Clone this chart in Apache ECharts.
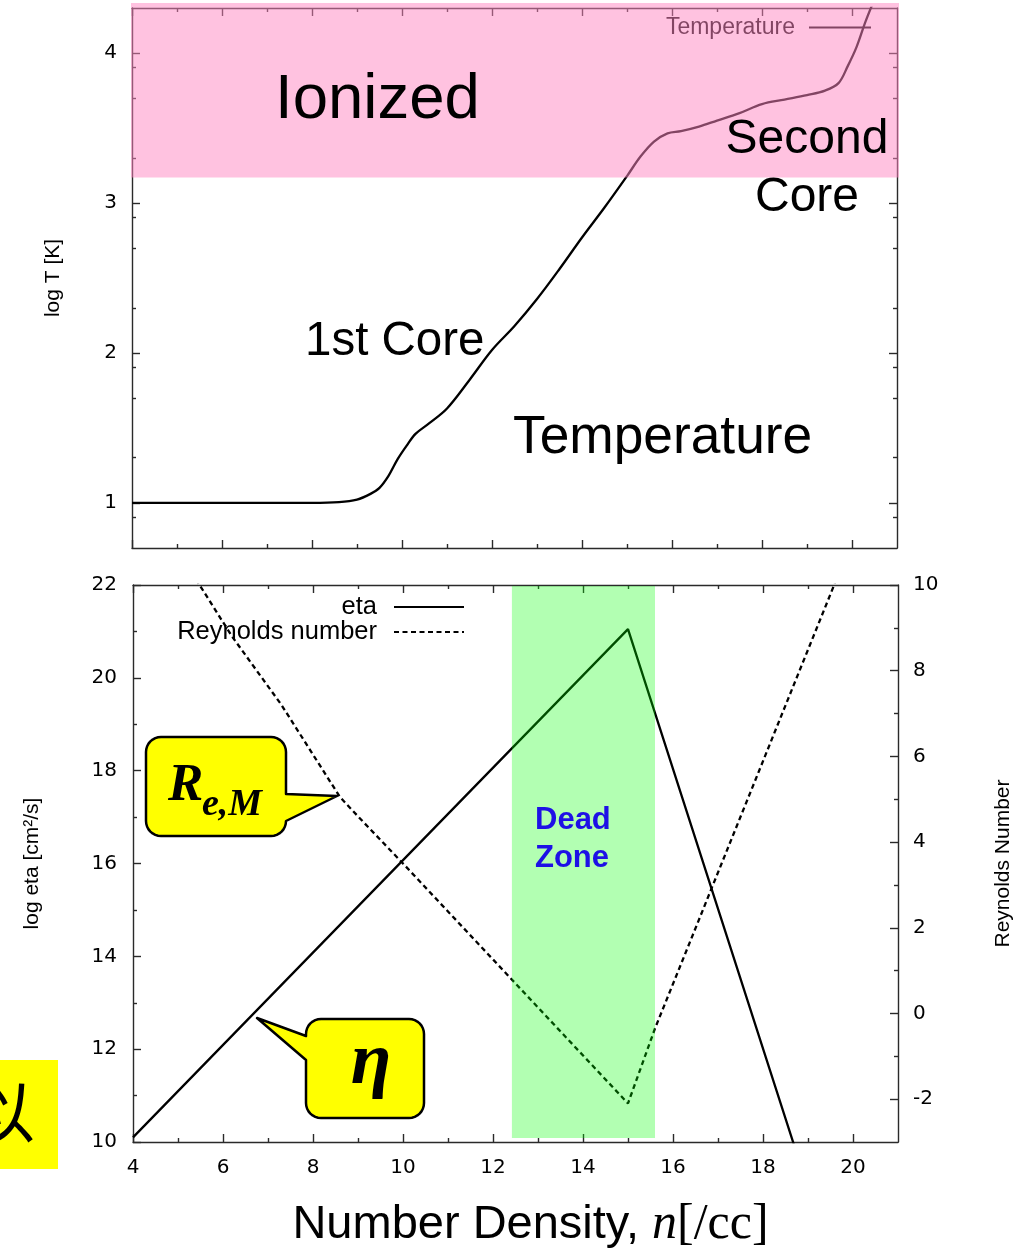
<!DOCTYPE html>
<html>
<head>
<meta charset="utf-8">
<script src="https://cdn.jsdelivr.net/npm/echarts@6/dist/echarts.min.js"></script>
<style>
  html, body { margin: 0; padding: 0; background: #ffffff; }
  #chart { width: 1017px; height: 1248px; }
</style>
</head>
<body>
<div id="chart"></div>
<script>
// ---- data: temperature vs number density (upper panel) ----
const densityT = [4, 6, 8, 8.6, 9.0, 9.3, 9.5, 9.7, 9.9, 10.1, 10.3, 10.6, 11.0, 11.5, 12.0, 12.5, 13.0, 13.5, 14.0, 14.5, 15.0, 15.3, 15.6, 15.9, 16.2, 16.6, 17.0, 17.5, 18.0, 18.5, 19.0, 19.4, 19.7, 19.9, 20.1, 20.3, 20.5];
const logT = [1.0, 1.0, 1.0, 1.005, 1.022, 1.06, 1.10, 1.18, 1.29, 1.38, 1.46, 1.53, 1.63, 1.82, 2.02, 2.18, 2.36, 2.56, 2.77, 2.97, 3.18, 3.31, 3.41, 3.465, 3.48, 3.51, 3.55, 3.60, 3.66, 3.69, 3.72, 3.75, 3.80, 3.91, 4.04, 4.21, 4.36];

// ---- data: resistivity and magnetic Reynolds number (lower panel) ----
const densityEta = [4, 15, 19];
const logEta = [10.1, 21.05, 9.0];
const densityRe = [5.3, 6.2, 7.3, 8.6, 9.0, 10.0, 15.0, 15.6, 19.6];
const reynolds = [10.3, 8.8, 7.2, 5.05, 4.6, 3.5, -2.1, -0.35, 10.05];

// ---- shaded regions ----
const ionizedFloorLogT = 3.17;       // lower edge of the ionized band
const deadZone = [12.42, 15.6];      // density range of the dead zone

// ---- axis ranges and ticks ----
const densityRange = [4, 21];
const logTRange = [Math.log10(5), Math.log10(20000)];
const etaRange = [10, 22];
const reRange = [-3, 10];
const densityTicks = [4, 6, 8, 10, 12, 14, 16, 18, 20];
const densityMinorTicks = [5, 7, 9, 11, 13, 15, 17, 19];
const logTTicks = [1, 2, 3, 4];
const logTMinorTicks = [8, 20, 50, 80, 200, 500, 800, 2000, 5000, 8000].map(v => Math.log10(v));
const etaTicks = [10, 12, 14, 16, 18, 20, 22];
const etaMinorTicks = [11, 13, 15, 17, 19, 21];
const reTicks = [-2, 0, 2, 4, 6, 8, 10];
const reMinorTicks = [-1, 1, 3, 5, 7, 9];

const FRAME = '#2a2a2a';
const TICK_FONT = { fontFamily: 'DejaVu Sans', fontSize: 20, color: '#000' };
const NAME_FONT = { fontFamily: 'Liberation Sans', fontSize: 21, color: '#000' };
const LINE_W = 2.3;

// one axis of the boxed frame; major axes draw the line, minor ones only short ticks
function frameAxis(opt) {
  const major = !opt.minor;
  const ax = {
    type: 'value',
    gridIndex: opt.grid,
    position: opt.position,
    min: opt.range[0],
    max: opt.range[1],
    splitLine: { show: false },
    axisLine: { show: major, onZero: false, lineStyle: { color: FRAME, width: 1.4 } },
    axisTick: {
      show: true, inside: true, length: major ? 8 : 4,
      customValues: opt.ticks,
      lineStyle: { color: FRAME, width: 1.4 }
    },
    axisLabel: { show: false },
    nameMoveOverlap: false
  };
  if (opt.labels) {
    ax.axisLabel = Object.assign({ show: true, customValues: opt.labels, margin: opt.margin || 15 }, TICK_FONT);
  }
  if (opt.name) {
    ax.name = opt.name;
    ax.nameLocation = 'middle';
    ax.nameGap = opt.nameGap;
    if (opt.nameRotate !== undefined) ax.nameRotate = opt.nameRotate;
    ax.nameTextStyle = opt.nameTextStyle || NAME_FONT;
  }
  return ax;
}

const xAxes = [
  // upper panel
  frameAxis({ grid: 0, position: 'bottom', range: densityRange, ticks: densityTicks }),
  frameAxis({ grid: 0, position: 'bottom', range: densityRange, ticks: densityMinorTicks, minor: true }),
  frameAxis({ grid: 0, position: 'top', range: densityRange, ticks: densityTicks }),
  frameAxis({ grid: 0, position: 'top', range: densityRange, ticks: densityMinorTicks, minor: true }),
  // lower panel
  frameAxis({
    grid: 1, position: 'bottom', range: densityRange, ticks: densityTicks, labels: densityTicks, margin: 16,
    name: '{a|Number Density, }{b|n}{c|[/cc]}', nameGap: 58,
    nameTextStyle: {
      padding: [0, 0, 0, 30],
      rich: {
        a: { fontFamily: 'Liberation Sans', fontSize: 47, color: '#000' },
        b: { fontFamily: 'Liberation Serif', fontStyle: 'italic', fontSize: 50, color: '#000' },
        c: { fontFamily: 'Liberation Serif', fontSize: 50, color: '#000' }
      }
    }
  }),
  frameAxis({ grid: 1, position: 'bottom', range: densityRange, ticks: densityMinorTicks, minor: true }),
  frameAxis({ grid: 1, position: 'top', range: densityRange, ticks: densityTicks }),
  frameAxis({ grid: 1, position: 'top', range: densityRange, ticks: densityMinorTicks, minor: true })
];

const yAxes = [
  // upper panel
  frameAxis({ grid: 0, position: 'left', range: logTRange, ticks: logTTicks, labels: logTTicks, margin: 15,
    name: 'log T [K]', nameGap: 68, nameRotate: 90 }),
  frameAxis({ grid: 0, position: 'left', range: logTRange, ticks: logTMinorTicks, minor: true }),
  frameAxis({ grid: 0, position: 'right', range: logTRange, ticks: logTTicks }),
  frameAxis({ grid: 0, position: 'right', range: logTRange, ticks: logTMinorTicks, minor: true }),
  // lower panel
  frameAxis({ grid: 1, position: 'left', range: etaRange, ticks: etaTicks, labels: etaTicks, margin: 16,
    name: 'log eta [cm²/s]', nameGap: 90, nameRotate: 90 }),
  frameAxis({ grid: 1, position: 'left', range: etaRange, ticks: etaMinorTicks, minor: true }),
  frameAxis({ grid: 1, position: 'right', range: reRange, ticks: reTicks, labels: reTicks, margin: 15,
    name: 'Reynolds Number', nameGap: 95, nameRotate: 90 }),
  frameAxis({ grid: 1, position: 'right', range: reRange, ticks: reMinorTicks, minor: true })
];

const zip = (xs, ys) => xs.map((x, i) => [x, ys[i]]);

const option = {
  backgroundColor: '#ffffff',
  animation: false,
  grid: [
    { left: 132, top: 8, width: 765, height: 540, containLabel: false, outerBoundsMode: 'none' },
    { left: 133, top: 585, width: 765, height: 557, containLabel: false, outerBoundsMode: 'none' }
  ],
  xAxis: xAxes,
  yAxis: yAxes,
  legend: [
    {
      data: ['Temperature'], orient: 'vertical', align: 'right', right: 145, top: 16, padding: 0,
      itemWidth: 62, itemHeight: 14, selectedMode: false,
      itemStyle: { opacity: 0 },
      textStyle: { fontFamily: 'Liberation Sans', fontSize: 23, color: '#000', padding: [0, 9, 0, 0] }
    },
    {
      data: ['eta', 'Reynolds number'], orient: 'vertical', align: 'right', right: 552, top: 594, padding: 0,
      itemWidth: 70, itemHeight: 14, itemGap: -1, selectedMode: false,
      itemStyle: { opacity: 0 },
      textStyle: { fontFamily: 'Liberation Sans', fontSize: 25.5, color: '#000', padding: [0, 12, 0, 0] }
    }
  ],
  series: [
    {
      name: 'Temperature', type: 'line', xAxisIndex: 0, yAxisIndex: 0,
      data: zip(densityT, logT), smooth: 0.35, symbol: 'none',
      lineStyle: { color: '#000', width: LINE_W }, itemStyle: { color: '#000' }
    },
    {
      name: 'eta', type: 'line', xAxisIndex: 4, yAxisIndex: 4,
      data: zip(densityEta, logEta), symbol: 'none',
      lineStyle: { color: '#000', width: LINE_W }, itemStyle: { color: '#000' }
    },
    {
      name: 'Reynolds number', type: 'line', xAxisIndex: 4, yAxisIndex: 6,
      data: zip(densityRe, reynolds), symbol: 'none',
      lineStyle: { color: '#000', width: LINE_W, type: [5, 3.5] }, itemStyle: { color: '#000' }
    }
  ]
};

const chart = echarts.init(document.getElementById('chart'), null, { renderer: 'canvas' });
chart.setOption(option);

// ---- overlays and annotations ----
const topPx = v => chart.convertToPixel({ xAxisIndex: 0, yAxisIndex: 0 }, v);
const lowPx = v => chart.convertToPixel({ xAxisIndex: 4, yAxisIndex: 4 }, v);

const pinkA = topPx([densityRange[0], logTRange[1]]);
const pinkB = topPx([densityRange[1], ionizedFloorLogT]);
const greenA = lowPx([deadZone[0], etaRange[1]]);
const greenB = lowPx([deadZone[1], etaRange[0]]);

function label(text, x, y, font, extra) {
  return {
    type: 'text', x: x, y: y, z: 22,
    style: Object.assign({ text: text, font: font, fill: '#000', textAlign: 'left', textVerticalAlign: 'middle' }, extra || {})
  };
}

// outline of a rounded speech bubble with a pointer on one side
function bubble(x0, y0, x1, y1, r, side, wa, tip, wb) {
  const pts = [];
  const arc = (cx, cy, a0, a1) => {
    const n = 8;
    for (let i = 0; i <= n; i++) {
      const a = (a0 + (a1 - a0) * i / n) * Math.PI / 180;
      pts.push([cx + r * Math.cos(a), cy + r * Math.sin(a)]);
    }
  };
  arc(x1 - r, y0 + r, -90, 0);
  if (side === 'right') { pts.push([x1, wa], tip, [x1, wb]); }
  arc(x1 - r, y1 - r, 0, 90);
  arc(x0 + r, y1 - r, 90, 180);
  if (side === 'left') { pts.push([x0, wb], tip, [x0, wa]); }
  arc(x0 + r, y0 + r, 180, 270);
  return {
    type: 'polygon', z: 20,
    shape: { points: pts },
    style: { fill: '#ffff00', stroke: '#000', lineWidth: 2.5, lineJoin: 'round' }
  };
}

chart.setOption({
  graphic: [
    // ionized band (translucent, drawn over the curve)
    { type: 'rect', z: 10, shape: { x: pinkA[0] - 1, y: pinkA[1] - 5, width: pinkB[0] - pinkA[0] + 3, height: pinkB[1] - pinkA[1] + 5 },
      style: { fill: 'rgba(255,135,194,0.51)' } },
    // dead zone band
    { type: 'rect', z: 10, shape: { x: greenA[0], y: greenA[1] + 1, width: greenB[0] - greenA[0], height: greenB[1] - greenA[1] - 5 },
      style: { fill: 'rgba(0,255,0,0.3)' } },

    label('Ionized', 275, 100, '63.5px "Liberation Sans"'),
    label('Second', 807, 140, '48px "Liberation Sans"', { textAlign: 'center' }),
    label('Core', 807, 198, '48px "Liberation Sans"', { textAlign: 'center' }),
    label('1st Core', 305, 342, '47.5px "Liberation Sans"'),
    label('Temperature', 513, 438, '53.3px "Liberation Sans"'),
    label('Dead', 535, 820, 'bold 31px "Liberation Sans"', { fill: '#1e10e6' }),
    label('Zone', 535, 858, 'bold 31px "Liberation Sans"', { fill: '#1e10e6' }),

    // R_{e,M} callout
    bubble(146, 737, 286, 836, 15, 'right', 794, [337, 796], 821),
    label('R', 168, 786, 'italic bold 53px "Liberation Serif"'),
    label('e,M', 202, 805, 'italic bold 38px "Liberation Serif"'),

    // eta callout
    bubble(306, 1019, 424, 1118, 15, 'left', 1036, [257, 1018], 1060),
    label('η', 371, 1064, 'italic bold 74px "Liberation Serif"', { textAlign: 'center' }),

    // side note
    { type: 'rect', z: 20, shape: { x: 0, y: 1060, width: 58, height: 109 }, style: { fill: '#ffff00' } },
    label('以', 35, 1112, '67px "Noto Sans CJK SC"', { textAlign: 'right' })
  ]
});
</script>
</body>
</html>
